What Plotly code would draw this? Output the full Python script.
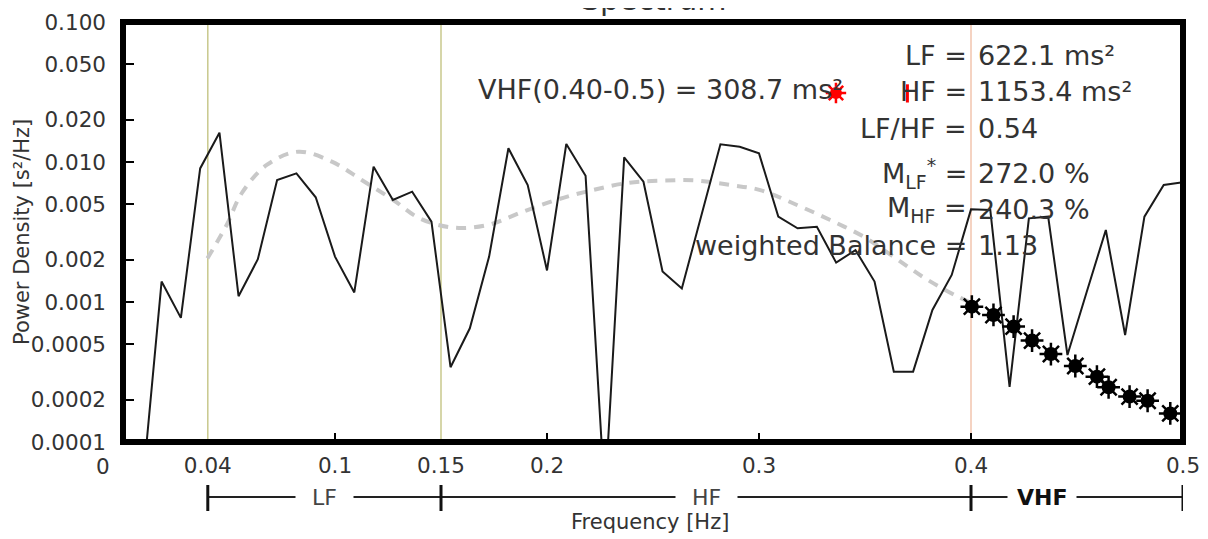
import plotly.graph_objects as go

# ---------------- data ----------------
freq = [0.0091, 0.0182, 0.0273, 0.0364, 0.0455, 0.0545, 0.0636, 0.0727, 0.0818, 0.0909,
        0.1000, 0.1091, 0.1182, 0.1273, 0.1364, 0.1455, 0.1545, 0.1636, 0.1727, 0.1818,
        0.1909, 0.2000, 0.2091, 0.2182, 0.2273, 0.2364, 0.2455, 0.2545, 0.2636, 0.2727,
        0.2818, 0.2909, 0.3000, 0.3091, 0.3182, 0.3273, 0.3364, 0.3455, 0.3545, 0.3636,
        0.3727, 0.3818, 0.3909, 0.4000, 0.4091, 0.4182, 0.4273, 0.4364, 0.4455, 0.4545,
        0.4636, 0.4727, 0.4818, 0.4909, 0.5000]
power = [0.000046, 0.00140, 0.00077, 0.0090, 0.0162, 0.00110, 0.00202, 0.00744, 0.0083, 0.0056,
         0.00211, 0.00117, 0.00926, 0.00535, 0.00614, 0.00375, 0.000342, 0.000649, 0.00211, 0.01253,
         0.00685, 0.00168, 0.01345, 0.00798, 0.000040, 0.0108, 0.00723, 0.00165, 0.00125, 0.00409,
         0.01338, 0.01286, 0.01153, 0.00407, 0.00336, 0.00345, 0.00191, 0.00235, 0.00140, 0.000318,
         0.000318, 0.000877, 0.00156, 0.00459, 0.00454, 0.000248, 0.00396, 0.00407, 0.000418, 0.00117,
         0.00327, 0.000581, 0.00407, 0.00685, 0.00716]

trend_freq = [0.0398, 0.0489, 0.0560, 0.0678, 0.0827, 0.0985, 0.1126, 0.1275, 0.1401, 0.1559,
              0.1724, 0.1889, 0.2054, 0.2219, 0.2384, 0.2549, 0.2707, 0.2864, 0.3006, 0.3179,
              0.3336, 0.3493, 0.3634, 0.3784, 0.3934, 0.4000]
trend_power = [0.00205, 0.00355, 0.00598, 0.00952, 0.01185, 0.01005, 0.00744, 0.00535, 0.00395, 0.00340,
               0.00356, 0.00443, 0.00542, 0.00632, 0.00710, 0.00737, 0.00737, 0.00685, 0.00630, 0.00493,
               0.00385, 0.00293, 0.00211, 0.001476, 0.00110, 0.00099]

vhf_freq = [0.4004, 0.4106, 0.4201, 0.4288, 0.4377, 0.4492, 0.4594, 0.4649, 0.4748, 0.4833, 0.4940]
vhf_power = [0.000926, 0.000808, 0.000667, 0.000530, 0.000425, 0.000349, 0.000293, 0.000246,
             0.000211, 0.000197, 0.000160]

red_freq = [0.3363]
red_power = [0.0311]
red_bar_freq = [0.370]
red_bar_power = [0.0309]

band_edges = [0.04, 0.15, 0.4, 0.5]
band_names = ["LF", "HF", "VHF"]

ytick_vals = [0.1, 0.05, 0.02, 0.01, 0.005, 0.002, 0.001, 0.0005, 0.0002, 0.0001]
ytick_text = ["0.100", "0.050", "0.020", "0.010", "0.005", "0.002", "0.001", "0.0005", "0.0002", "0.0001"]
xtick_vals = [0.04, 0.1, 0.15, 0.2, 0.3, 0.4, 0.5]
xtick_text = ["0.04", "0.1", "0.15", "0.2", "0.3", "0.4", "0.5"]
xminor_vals = [0.1, 0.2, 0.3, 0.4]

stats_left = ["LF =", "HF =", "LF/HF =", "M<sub>LF</sub><sup>*</sup> =", "M<sub>HF</sub> =", "weighted Balance ="]
stats_right = ["622.1 ms²", "1153.4 ms²", "0.54", "272.0 %", "240.3 %", "1.13"]
vhf_text = "VHF(0.40-0.5) = 308.7 ms²"

# ---------------- layout helpers ----------------
OFF = 8                      # page body margin
W, H = 1200, 531
ML, MT = 115, 14
PW, PH = 1060, 420
MR, MB = W - ML - PW, H - MT - PH


def py(p):  # window pixel y -> paper y
    return (OFF + MT + PH - p) / PH


def px(p):  # window pixel x -> paper x
    return (p - OFF - ML) / PW


FONT = "DejaVu Sans, Verdana, sans-serif"
TXT = "#333333"

fig = go.Figure()

fig.add_trace(go.Scatter(x=trend_freq, y=trend_power, mode="lines",
                         line=dict(color="#c8c8c8", width=4, dash="10px,8px", shape="spline"),
                         showlegend=False, hoverinfo="skip"))
fig.add_trace(go.Scatter(x=freq, y=power, mode="lines",
                         line=dict(color="#1a1a1a", width=2), showlegend=False))
fig.add_trace(go.Scatter(x=vhf_freq, y=vhf_power, mode="markers",
                         marker=dict(symbol="circle", size=14, color="black"), showlegend=False))
fig.add_trace(go.Scatter(x=vhf_freq, y=vhf_power, mode="markers",
                         marker=dict(symbol="asterisk-open", size=19, color="black",
                                     line=dict(color="black", width=2.5)), showlegend=False))
fig.add_trace(go.Scatter(x=red_freq, y=red_power, mode="markers",
                         marker=dict(symbol="circle", size=12, color="red"), showlegend=False))
fig.add_trace(go.Scatter(x=red_freq, y=red_power, mode="markers",
                         marker=dict(symbol="asterisk-open", size=17, color="red",
                                     line=dict(color="red", width=2.5)), showlegend=False))
fig.add_trace(go.Scatter(x=red_bar_freq, y=red_bar_power, mode="markers",
                         marker=dict(symbol="line-ns-open", size=13, color="red",
                                     line=dict(color="red", width=3)), showlegend=False))

shapes = []
band_line_colors = ["#c8c88c", "#c8c88c", "#f2c4ae"]
for e, c in zip(band_edges[:3], band_line_colors):
    shapes.append(dict(type="line", xref="x", yref="paper", x0=e, x1=e, y0=0, y1=1,
                       line=dict(color=c, width=1.5), layer="below"))
shapes.append(dict(type="rect", xref="paper", yref="paper", x0=0, x1=1, y0=0, y1=1,
                   line=dict(color="black", width=6), layer="above"))
shapes.append(dict(type="line", xref="x", yref="paper", x0=band_edges[0], x1=band_edges[-1],
                   y0=py(497), y1=py(497), line=dict(color="#222222", width=2)))
for e in band_edges:
    shapes.append(dict(type="line", xref="x", yref="paper", x0=e, x1=e,
                       y0=py(485), y1=py(511), line=dict(color="#111111", width=3)))

annotations = []
pads = ["\u00a0\u00a0", "\u00a0\u00a0", "\u00a0"]
label_x = [(band_edges[0] + band_edges[1]) / 2, (band_edges[1] + band_edges[2]) / 2,
           (band_edges[2] + band_edges[3]) / 2]
label_shift = [0, 0, -35]
for i, name in enumerate(band_names):
    t = f"<b>{name}</b>" if name == "VHF" else name
    annotations.append(dict(x=label_x[i], xref="x", y=py(497), yref="paper",
                            text=pads[i] + t + pads[i], showarrow=False, bgcolor="white",
                            borderpad=2, xanchor="center", yanchor="middle", xshift=label_shift[i],
                            font=dict(family=FONT, size=22,
                                      color="#111111" if name == "VHF" else "#444444")))
# "0" tick label
annotations.append(dict(x=px(102.5), xref="paper", y=py(466), yref="paper", text="0", showarrow=False,
                        xanchor="center", yanchor="middle",
                        font=dict(family=FONT, size=21.5, color=TXT)))
# axis titles
annotations.append(dict(x=px(650), xref="paper", y=py(522), yref="paper", text="Frequency [Hz]",
                        showarrow=False, xanchor="center", yanchor="middle",
                        font=dict(family=FONT, size=21, color=TXT)))
annotations.append(dict(x=px(22), xref="paper", y=0.5, yref="paper", text="Power Density [s²/Hz]",
                        showarrow=False, xanchor="center", yanchor="middle", textangle=-90,
                        font=dict(family=FONT, size=21, color=TXT)))
# title
annotations.append(dict(x=0.5, xref="paper", y=py(19), yref="paper", text="Spectrum",
                        showarrow=False, xanchor="center", yanchor="bottom",
                        font=dict(family=FONT, size=30, color=TXT)))
# statistics block
stat_y = [55, 91.5, 128, 173, 209, 245]
for l, r, yy in zip(stats_left, stats_right, stat_y):
    annotations.append(dict(x=px(969), xref="paper", y=py(yy), yref="paper", text=l,
                            showarrow=False, xanchor="right", yanchor="middle",
                            font=dict(family=FONT, size=27, color=TXT)))
    annotations.append(dict(x=px(976), xref="paper", y=py(yy), yref="paper", text=r,
                            showarrow=False, xanchor="left", yanchor="middle",
                            font=dict(family=FONT, size=27, color=TXT)))
annotations.append(dict(x=px(476), xref="paper", y=py(90), yref="paper", text=vhf_text,
                        showarrow=False, xanchor="left", yanchor="middle",
                        font=dict(family=FONT, size=27, color=TXT)))

fig.update_layout(
    width=W, height=H,
    margin=dict(l=ML, r=MR, t=MT, b=MB, pad=0),
    paper_bgcolor="white", plot_bgcolor="white",
    shapes=shapes, annotations=annotations,
    font=dict(family=FONT, size=21.5, color=TXT),
    showlegend=False,
)
fig.update_xaxes(range=[0, 0.5], showgrid=False, zeroline=False, showline=False, automargin=False,
                 tickmode="array", tickvals=xtick_vals, ticktext=xtick_text, ticks="",
                 ticklabelstandoff=8, ticklabeloverflow="allow",
                 tickfont=dict(family=FONT, size=21.5, color=TXT),
                 minor=dict(tickmode="array", tickvals=xminor_vals, ticks="inside",
                            ticklen=9, tickwidth=2, tickcolor="black", showgrid=False))
fig.update_yaxes(type="log", range=[-4, -1], showgrid=False, zeroline=False, showline=False,
                 automargin=False,
                 tickmode="array", tickvals=ytick_vals, ticktext=ytick_text,
                 ticks="inside", ticklen=11, tickwidth=2, tickcolor="black",
                 ticklabelstandoff=16, ticklabeloverflow="allow",
                 tickfont=dict(family=FONT, size=21.5, color=TXT))

fig.write_html("out.html")
